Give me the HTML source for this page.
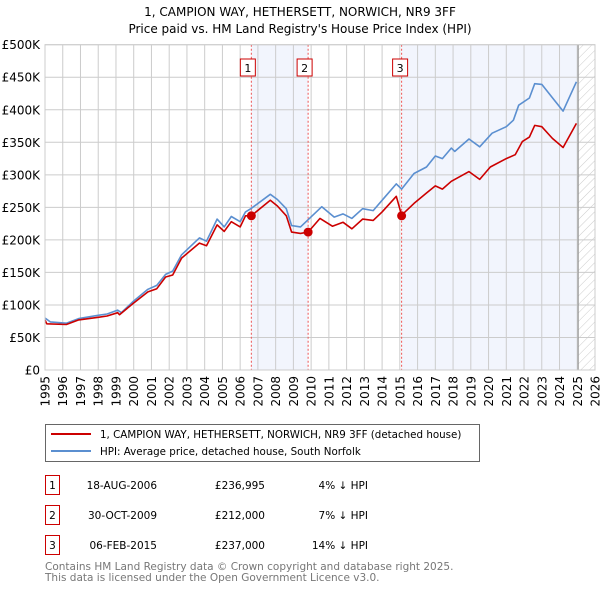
<!DOCTYPE html>
<html><head><meta charset="utf-8"><style>
body{margin:0;background:#fff;width:600px;height:590px;overflow:hidden;font-family:"Liberation Sans","DejaVu Sans",sans-serif}
svg text{font-family:"DejaVu Sans","Liberation Sans",sans-serif}
</style></head><body>
<svg id="c" width="600" height="590" xmlns="http://www.w3.org/2000/svg">
<text x="300" y="16" text-anchor="middle" font-size="12">1, CAMPION WAY, HETHERSETT, NORWICH, NR9 3FF</text>
<text x="300" y="33" text-anchor="middle" font-size="12">Price paid vs. HM Land Registry's House Price Index (HPI)</text>
<g id="plot"></g>
<g>
<rect x="45.5" y="424.5" width="434" height="37" fill="#fff" stroke="#666"/>
<line x1="51" y1="434" x2="91" y2="434" stroke="#cc0000" stroke-width="2"/>
<text x="100" y="438" font-size="10.3">1, CAMPION WAY, HETHERSETT, NORWICH, NR9 3FF (detached house)</text>
<line x1="51" y1="451" x2="91" y2="451" stroke="#5b8fd0" stroke-width="2"/>
<text x="100" y="455" font-size="10.3">HPI: Average price, detached house, South Norfolk</text>
</g>
<g id="table" font-size="10.5"></g>
<text x="45" y="570" font-size="10.5" fill="#777">Contains HM Land Registry data © Crown copyright and database right 2025.</text>
<text x="45" y="581" font-size="10.5" fill="#777">This data is licensed under the Open Government Licence v3.0.</text>
</svg>
<script>
const hpiYears=[1995,1995.3,1996.2,1996.9,1998,1998.5,1999.1,1999.3,2000,2000.8,2001.3,2001.8,2002.2,2002.7,2003.7,2004.1,2004.7,2005.1,2005.5,2006,2006.3,2006.6,2007.7,2008.1,2008.6,2008.9,2009.4,2010.6,2011.3,2011.8,2012.3,2012.9,2013.5,2014.1,2014.8,2015.1,2015.8,2016.5,2017.0,2017.4,2017.9,2018.1,2018.9,2019.5,2020.2,2021.0,2021.4,2021.7,2022.3,2022.6,2023.0,2023.7,2024.2,2024.95];
const hpiValues=[80,74,72,79,84,86,92,88,106,124,130,147,152,177,203,198,232,220,236,228,243,248,270,262,248,222,220,251,235,240,233,248,245,264,286,278,302,312,329,325,341,336,355,343,364,374,384,407,418,440,439,415,398,443];
const propYears=[1995,1995.1,1996.2,1996.9,1998,1998.5,1999.1,1999.2,2000,2000.8,2001.3,2001.8,2002.2,2002.7,2003.7,2004.1,2004.7,2005.1,2005.5,2006,2006.3,2006.63,2007.7,2008.1,2008.6,2008.9,2009.4,2009.83,2010.5,2011.2,2011.8,2012.3,2012.9,2013.5,2014.0,2014.8,2015.1,2015.8,2016.5,2017.0,2017.4,2017.9,2018.9,2019.5,2020.1,2021.0,2021.5,2021.9,2022.3,2022.6,2023.0,2023.6,2024.2,2024.95];
const propValues=[77,71,70,77,81,83,88,85,103,120,125,143,146,172,195,191,223,213,228,220,237,237,261,252,237,212,210,212,233,221,227,217,232,230,243,267,238,256,272,283,278,290,305,293,312,325,331,351,358,376,374,356,342,379];
const saleLabels=["1","2","3"];
const saleYears=[2006.63,2009.83,2015.1];
const saleValues=[236.995,212,237];
const saleDates=["18-AUG-2006","30-OCT-2009","06-FEB-2015"];
const salePrices=["£236,995","£212,000","£237,000"];
const saleDiffs=["4% ↓ HPI","7% ↓ HPI","14% ↓ HPI"];
const yTicks=[0,50,100,150,200,250,300,350,400,450,500];
const yTickLabels=["£0","£50K","£100K","£150K","£200K","£250K","£300K","£350K","£400K","£450K","£500K"];
const xTicks=[1995,1996,1997,1998,1999,2000,2001,2002,2003,2004,2005,2006,2007,2008,2009,2010,2011,2012,2013,2014,2015,2016,2017,2018,2019,2020,2021,2022,2023,2024,2025,2026];
const dataEnd=2025.05;

const L=45,R=595,T=44.7,B=370,X0=1995,X1=2026,YMAX=500;
const sx=v=>L+(v-X0)/(X1-X0)*(R-L);
const sy=v=>B-v/YMAX*(B-T);
const NS="http://www.w3.org/2000/svg";
const g=document.getElementById('plot');
function mk(t,a,p){const e=document.createElementNS(NS,t);for(const k in a)e.setAttribute(k,a[k]);(p||g).appendChild(e);return e;}
let e;
e=mk('rect',{x:sx(saleYears[0]),y:T,width:sx(saleYears[1])-sx(saleYears[0]),height:B-T,fill:'#f2f5fd'});


e=mk('rect',{x:sx(saleYears[2]),y:T,width:sx(dataEnd)-sx(saleYears[2]),height:B-T,fill:'#f2f5fd'});


const defs=mk('defs',{});
const pat=mk('pattern',{id:'h',width:6,height:6,patternUnits:'userSpaceOnUse',patternTransform:'rotate(45)'},defs);
mk('line',{x1:0,y1:0,x2:0,y2:6,stroke:'#ccc','stroke-width':1},pat);
e=mk('rect',{x:sx(dataEnd),y:T,width:R-sx(dataEnd),height:B-T,fill:'url(#h)'});


yTicks.forEach((v,i)=>{
 e=mk('line',{x1:L,x2:R,y1:sy(v),y2:sy(v),stroke:'#ccc'});
 
 
 e=mk('text',{x:40,y:sy(v)+4.5,'text-anchor':'end','font-size':12});
 e.textContent=yTickLabels[i];
 
 
});
xTicks.forEach(v=>{
 e=mk('line',{x1:sx(v),x2:sx(v),y1:T,y2:B,stroke:'#ccc'});
 
 
 e=mk('text',{x:0,y:0,'font-size':12,'text-anchor':'end',transform:`translate(${sx(v)+4.5},376) rotate(-90)`});
 e.textContent=v;
 
 
});
e=mk('line',{x1:sx(dataEnd),x2:sx(dataEnd),y1:T,y2:B,stroke:'#999','stroke-width':1.2});


saleYears.forEach((y,i)=>{
 e=mk('line',{x1:sx(y),x2:sx(y),y1:T,y2:B,stroke:'#ee5555','stroke-dasharray':'2,2','stroke-width':1});
 
 
 e=mk('rect',{x:sx(y)-9-(i==2?0:2),y:59,width:15,height:17,fill:'#fff',stroke:'#cc0000'});
 
 
 e=mk('text',{x:sx(y)-1.5-(i==2?0:2),y:72,'text-anchor':'middle','font-size':11});
 e.textContent=saleLabels[i];
 
 
});
function line(xs,vs,c,n){
 const d=xs.map((x,i)=>(i?'L':'M')+sx(x).toFixed(1)+','+sy(vs[i]).toFixed(1)).join('');
 e=mk('path',{d:d,fill:'none',stroke:c,'stroke-width':1.6,'stroke-linejoin':'round'});
 
 
}
line(hpiYears,hpiValues,'#5b8fd0','hpi-line');
line(propYears,propValues,'#cc0000','property-line');
saleYears.forEach((y,i)=>{
 e=mk('circle',{cx:sx(y),cy:sy(saleValues[i]),r:4.5,fill:'#cc0000'});
 
 
});
mk('rect',{x:L,y:T,width:R-L,height:B-T,fill:'none',stroke:'#ccc'});
const tg=document.getElementById('table');
const rowY=[485,515,545];
saleLabels.forEach((s,i)=>{
 const y=rowY[i];
 e=mk('rect',{x:45.5,y:y-9.5,width:14,height:19,fill:'#fff',stroke:'#cc0000'},tg);
 
 
 const cells=[[52.5,'middle',s,'table-label'],[157,'end',saleDates[i],'table-date'],[265,'end',salePrices[i],'table-price'],[368,'end',saleDiffs[i],'table-hpi-diff']];
 cells.forEach(c=>{
  e=mk('text',{x:c[0],y:y+4,'text-anchor':c[1]},tg);
  e.textContent=c[2];
  
  
 });
});
</script>
</body></html>
